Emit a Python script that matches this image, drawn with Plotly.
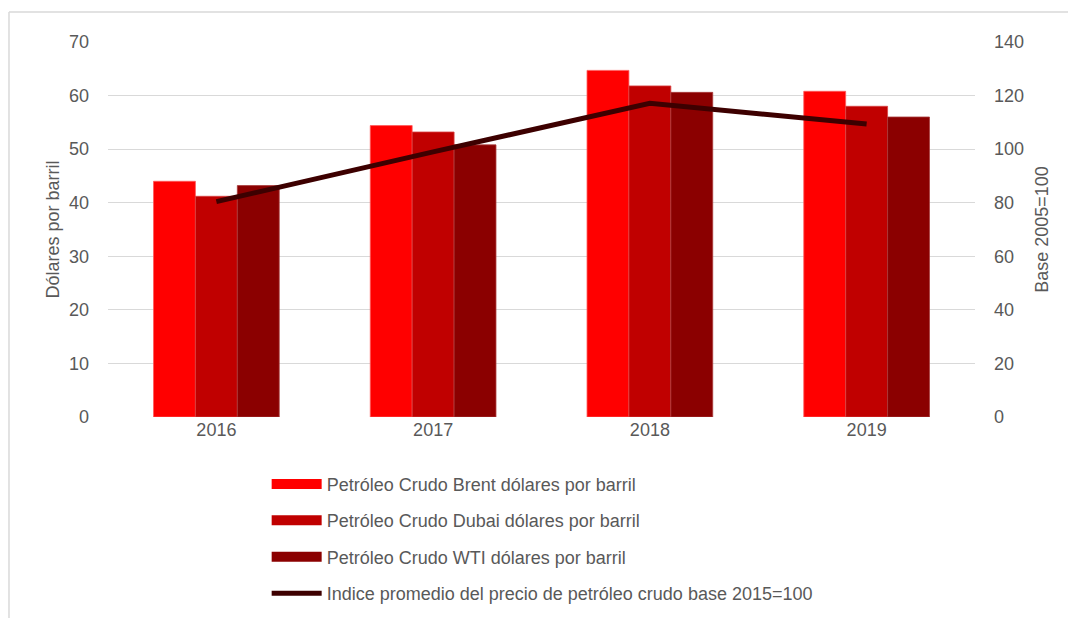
import plotly.graph_objects as go

# datos
anios = ["2016", "2017", "2018", "2019"]
brent = [44.0, 54.4, 64.7, 60.8]
dubai = [41.2, 53.2, 61.8, 58.0]
wti = [43.2, 50.8, 60.6, 56.0]
indice = [80.4, 99.0, 117.1, 109.4]

nombres = [
    "Petróleo Crudo Brent dólares por barril",
    "Petróleo Crudo Dubai dólares por barril",
    "Petróleo Crudo WTI dólares por barril",
    "Indice promedio del precio de petróleo crudo base 2015=100",
]
colores = ["#FF0000", "#C00000", "#8B0000", "#3D0000"]
bordes = ["#FF5A5A", "#D84040", "#A83A3A"]

TXT = "#595959"
GRID = "#D9D9D9"
FS = 18

fig = go.Figure()

# barras (sin leyenda, la leyenda va con trazos gruesos tipo Excel)
for serie, nombre, col, borde in zip([brent, dubai, wti], nombres, colores, bordes):
    fig.add_trace(go.Bar(
        x=anios, y=serie, name=nombre,
        marker=dict(color=col, line=dict(color=borde, width=0.8)),
        showlegend=False,
    ))

fig.add_trace(go.Scatter(
    x=anios, y=indice, name=nombres[3], yaxis="y2",
    mode="lines", line=dict(color=colores[3], width=5),
    showlegend=False,
))

# entradas de leyenda
for i, (nombre, col) in enumerate(zip(nombres, colores)):
    fig.add_trace(go.Scatter(
        x=[None], y=[None], name=nombre, mode="lines",
        line=dict(color=col, width=10 if i < 3 else 5),
        legendgroup=f"g{i}", showlegend=True,
    ))

# marco del área del gráfico (solo borde superior e izquierdo visibles)
marco = [
    dict(type="line", xref="paper", yref="paper", x0=-0.1142, x1=1.15, y0=1.08, y1=1.08,
         line=dict(color=GRID, width=1.5)),
    dict(type="line", xref="paper", yref="paper", x0=-0.1142, x1=-0.1142, y0=1.08, y1=-0.6,
         line=dict(color=GRID, width=1.5)),
]

fig.update_layout(
    width=1076, height=618,
    margin=dict(l=100, r=109, t=34, b=209),
    paper_bgcolor="white", plot_bgcolor="white",
    font=dict(family="Liberation Sans, Arial, sans-serif", size=FS, color=TXT),
    barmode="group", bargap=0.42, bargroupgap=0,
    xaxis=dict(type="category", showgrid=False, showline=False, ticks="",
               tickfont=dict(size=FS, color=TXT)),
    yaxis=dict(range=[0, 70], dtick=10, showgrid=True, gridcolor=GRID, gridwidth=1,
               zeroline=False, showline=False, ticks="", ticklabelstandoff=18,
               title=dict(text="Dólares por barril", font=dict(size=FS, color=TXT), standoff=4),
               tickfont=dict(size=FS, color=TXT)),
    yaxis2=dict(range=[0, 140], dtick=20, overlaying="y", side="right", showgrid=False,
                zeroline=False, showline=False, ticks="", ticklabelstandoff=18,
                title=dict(text="Base 2005=100", font=dict(size=FS, color=TXT), standoff=12),
                tickfont=dict(size=FS, color=TXT)),
    legend=dict(x=0.183, y=-0.13, xanchor="left", yanchor="top",
                orientation="v", tracegroupgap=10, itemwidth=50,
                font=dict(size=FS, color=TXT), bgcolor="rgba(0,0,0,0)"),
    shapes=marco,
)

fig.write_html("out.html")
